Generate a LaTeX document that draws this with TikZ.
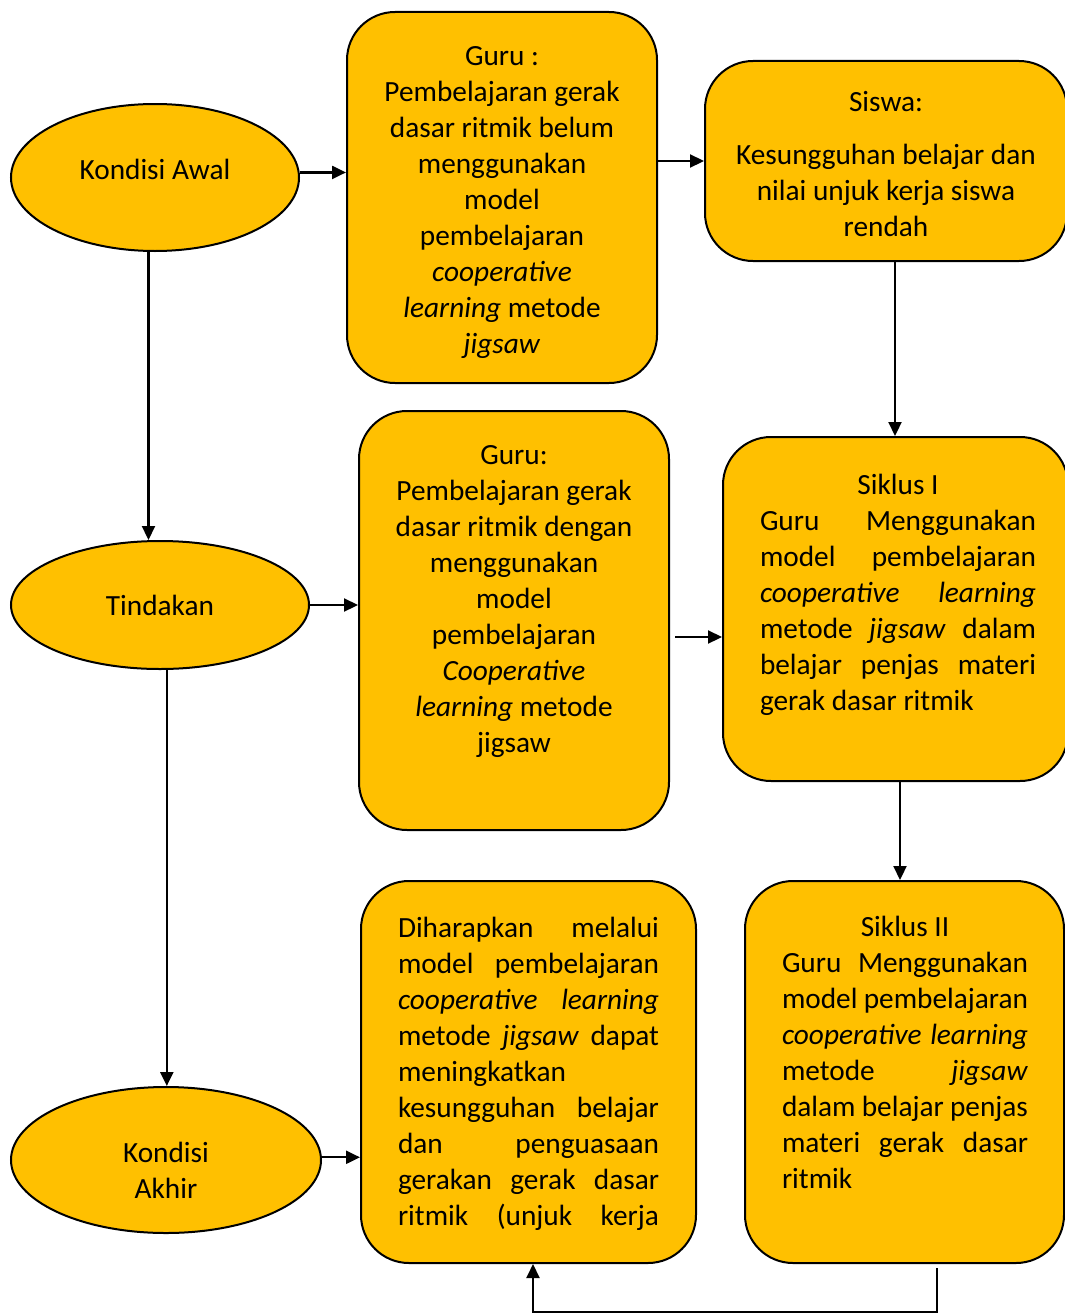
\documentclass[tikz,border=0pt]{standalone}
\usepackage{fontspec}
\setmainfont{Carlito}
\usepackage{xcolor}
\usetikzlibrary{shapes, positioning, arrows.meta}
\definecolor{gold}{HTML}{FFC000}

\begin{document}
\begin{tikzpicture}[
            x=1pt, y=-1pt,
            every node/.style={font=\fontsize{29.3pt}{36pt}\selectfont},
            oval/.style={ellipse, draw, fill=gold, line width=2pt, inner sep=0pt},
            rbox/.style={rectangle, rounded corners=48pt, draw, fill=gold, line width=2pt, inner sep=0pt},
            txt/.style={inner sep=0pt, align=center},
            arr/.style={line width=2.2pt, -{Triangle[length=14pt, width=13pt]}},
        ]
            \useasboundingbox (0,0) rectangle (1065,1314);
            % kolom kiri
            \node[oval, minimum width=288pt, minimum height=147pt] (awal) at (155,177.5) {};
            \node[txt] (awaltxt) at (155,169.5) {Kondisi Awal};
            \node[oval, minimum width=298pt, minimum height=128pt] (tindakan) at (160,605) {};
            \node[txt] (tindakantxt) at (160,605.5) {Tindakan};
            \node[oval, minimum width=310pt, minimum height=146pt] (akhir) at (166,1160) {};
            \node[txt] (akhirtxt) at (166,1170.5) {Kondisi\\Akhir};
            % kotak guru
            \node[rbox, minimum width=310pt, minimum height=371pt] (guru1) at (502,197.5) {};
            \node[txt] (guru1txt) at (502,202.5) {Guru :\\Pembelajaran gerak\\dasar ritmik belum\\menggunakan\\model\\pembelajaran\\\textit{cooperative}\\\textit{learning} metode\\\textit{jigsaw}};
            \node[rbox, minimum width=310pt, minimum height=419pt] (guru2) at (514,620.5) {};
            \node[txt] (guru2txt) at (514,601.5) {Guru:\\Pembelajaran gerak\\dasar ritmik dengan\\menggunakan\\model\\pembelajaran\\\textit{Cooperative}\\\textit{learning} metode\\jigsaw};
            \node[rbox, minimum width=335pt, minimum height=382pt] (harap) at (528.5,1072) {};
            \node[txt] (haraptxt) at (528.5,1073.5) {%
                \makebox[261pt][s]{Diharapkan melalui}\\
                \makebox[261pt][s]{model pembelajaran}\\
                \makebox[261pt][s]{\textit{cooperative} \textit{learning}}\\
                \makebox[261pt][s]{metode \textit{jigsaw} dapat}\\
                \makebox[261pt][l]{meningkatkan}\\
                \makebox[261pt][s]{kesungguhan belajar}\\
                \makebox[261pt][s]{dan penguasaan}\\
                \makebox[261pt][s]{gerakan gerak dasar}\\
                \makebox[261pt][s]{ritmik (unjuk kerja}};
            % kolom kanan
            \node[rbox, minimum width=362pt, minimum height=200pt] (siswa) at (886,161) {};
            \node[txt] (siswatxt) at (886,164) {Siswa:\\[17pt]Kesungguhan belajar dan\\nilai unjuk kerja siswa\\rendah};
            \node[rbox, minimum width=345pt, minimum height=344pt] (siklus1) at (895.5,609) {};
            \node[txt] (siklus1txt) at (898,594.5) {Siklus I\\
                \makebox[276pt][s]{Guru Menggunakan}\\
                \makebox[276pt][s]{model pembelajaran}\\
                \makebox[276pt][s]{\textit{cooperative} \textit{learning}}\\
                \makebox[276pt][s]{metode \textit{jigsaw} dalam}\\
                \makebox[276pt][s]{belajar penjas materi}\\
                \makebox[276pt][l]{gerak dasar ritmik}};
            \node[rbox, minimum width=319pt, minimum height=382pt] (siklus2) at (904.5,1072) {};
            \node[txt] (siklus2txt) at (905,1052.5) {Siklus II\\
                \makebox[246pt][s]{Guru Menggunakan}\\
                \makebox[246pt][s]{model pembelajaran}\\
                \makebox[246pt][s]{\textit{cooperative} \textit{learning}}\\
                \makebox[246pt][s]{metode \textit{jigsaw}}\\
                \makebox[246pt][s]{dalam belajar penjas}\\
                \makebox[246pt][s]{materi gerak dasar}\\
                \makebox[246pt][l]{ritmik}};
            % panah
            \draw[arr] (awal.2) -- (awal.2 -| guru1.west);
            \draw[arr] (guru1.east |- siswa.west) -- (siswa.west);
            \draw[arr] ([xshift=9pt]siswa.south) coordinate (swout) -- (swout |- siklus1.north);
            \draw[arr] (awal.265) -- (awal.265 |- tindakan.north);
            \draw[arr] (tindakan.east) -- (tindakan.east -| guru2.west);
            \draw[arr] ([xshift=5pt, yshift=-16.5pt]guru2.east) coordinate (g2out) -- (g2out -| siklus1.west);
            \draw[arr] ([xshift=4.5pt]siklus1.south) coordinate (s1out) -- (s1out |- siklus2.north);
            \draw[arr] (tindakan.276) -- (tindakan.276 |- akhir.north);
            \draw[arr] (akhir.1.5) -- (akhir.1.5 -| harap.west);
            \coordinate (s2out) at ([xshift=32.5pt, yshift=-4pt]siklus2.south);
            \draw[arr] (s2out) -- (s2out |- 0,1312) -| ([xshift=4.5pt]harap.south);
        \end{tikzpicture}
\end{document}
